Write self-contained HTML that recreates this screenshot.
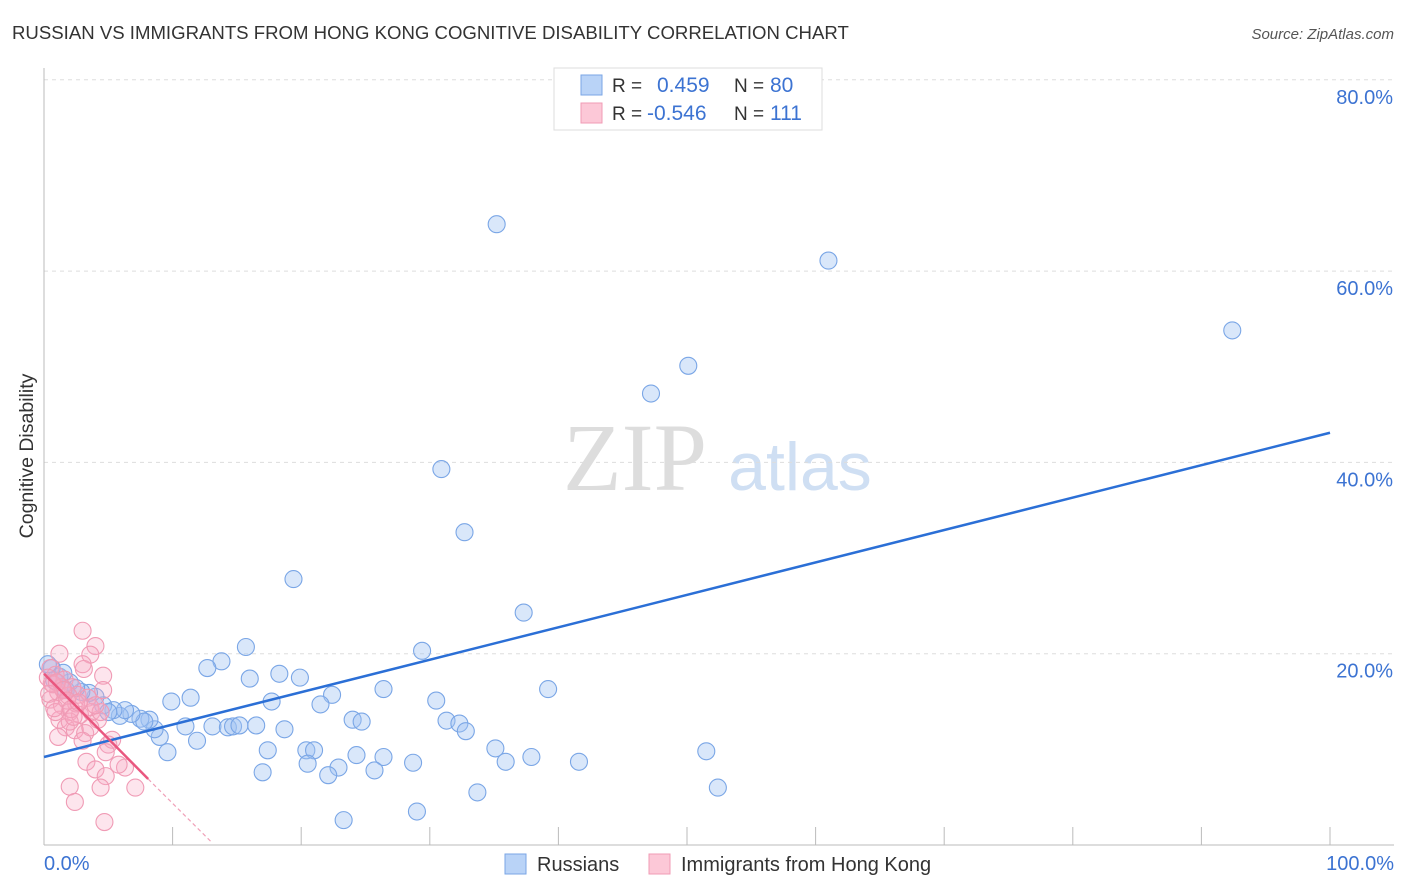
<!DOCTYPE html>
<html><head><meta charset="utf-8"><style>
body{margin:0;background:#fff;font-family:"Liberation Sans",sans-serif}
svg{display:block}
</style></head><body>
<svg id="c" width="1406" height="892">
<text x="12" y="39" font-size="18.6" fill="#333">RUSSIAN VS IMMIGRANTS FROM HONG KONG COGNITIVE DISABILITY CORRELATION CHART</text>
<text x="1394" y="39" font-size="15" fill="#555" text-anchor="end" font-style="italic">Source: ZipAtlas.com</text>
<text x="33" y="456" font-size="19.5" fill="#333" text-anchor="middle" transform="rotate(-90 33 456)">Cognitive Disability</text>
<g><text x="635" y="490" font-family="Liberation Serif" font-size="96" fill="#ddd" text-anchor="middle">ZIP</text><text x="800" y="490" font-size="68" fill="#cfdff3" text-anchor="middle">atlas</text></g>
<g id="grid"></g><g id="pts"></g><g id="lines"></g>
<g>
<rect x="554" y="68" width="268" height="62" fill="#fff" stroke="#ddd"/>
<rect x="581" y="75" width="21" height="20" fill="#b9d3f7" stroke="#7aa6e6"/>
<rect x="581" y="103" width="21" height="20" fill="#fcc8d7" stroke="#f09bb5"/>
<text x="612" y="92" font-size="19" fill="#333">R =</text><text x="657" y="92" font-size="21" fill="#3c73d2">0.459</text>
<text x="734" y="92" font-size="19" fill="#333">N =</text><text x="770" y="92" font-size="21" fill="#3c73d2">80</text>
<text x="612" y="120" font-size="19" fill="#333">R =</text><text x="647" y="120" font-size="21" fill="#3c73d2">-0.546</text>
<text x="734" y="120" font-size="19" fill="#333">N =</text><text x="770" y="120" font-size="21" fill="#3c73d2">111</text>
</g>
<g>
<rect x="505" y="854" width="21" height="20" fill="#b9d3f7" stroke="#7aa6e6"/><text x="537" y="871" font-size="20" fill="#333">Russians</text>
<rect x="649" y="854" width="21" height="20" fill="#fcc8d7" stroke="#f09bb5"/><text x="681" y="871" font-size="20" fill="#333">Immigrants from Hong Kong</text>
</g>
</svg>
<script>
const yTicks=[20,40,60,80];
const yTickLabels=["20.0%","40.0%","60.0%","80.0%"];
const xTickLabels=["0.0%","100.0%"];
const russiansX=[35.2,61.0,92.4,50.1,47.2,30.9,32.7,19.4,37.3,15.7,29.4,13.8,12.7,18.3,16.0,19.9,26.4,39.2,22.4,11.4,9.9,17.7,30.5,21.5,24.0,24.7,31.3,32.3,32.8,11.0,13.1,14.3,14.7,15.2,16.5,18.7,11.9,17.4,20.4,21.0,24.3,26.4,35.1,37.9,51.5,20.5,22.9,25.7,28.7,35.9,41.6,17.0,22.1,52.4,33.7,29.0,23.3,9.6,9.0,8.6,8.2,7.5,7.8,6.8,5.9,6.3,5.4,4.6,4.0,3.5,2.9,2.0,1.2,0.6,0.3,1.7,2.5,5.0,0.8,1.5];
const russiansY=[64.9,61.1,53.8,50.1,47.2,39.3,32.7,27.8,24.3,20.7,20.3,19.2,18.5,17.9,17.4,17.5,16.3,16.3,15.7,15.4,15.0,15.0,15.1,14.7,13.1,12.9,13.0,12.7,11.9,12.4,12.4,12.3,12.4,12.5,12.5,12.1,10.9,9.9,9.9,9.9,9.4,9.2,10.1,9.2,9.8,8.5,8.1,7.8,8.6,8.7,8.7,7.6,7.3,6.0,5.5,3.5,2.6,9.7,11.3,12.1,13.1,13.2,12.9,13.7,13.5,14.1,14.1,14.6,15.5,15.9,16.0,17.0,17.6,18.5,18.9,16.2,16.4,13.9,17.2,18.0];
const hkX=[3.0,4.0,1.2,3.6,3.0,3.1,4.6,4.6,0.5,0.9,1.6,2.2,1.1,2.6,3.4,0.5,1.4,2.0,2.8,3.7,4.2,1.2,1.7,2.4,3.2,3.6,1.1,3.0,5.0,5.3,4.8,3.3,4.0,6.3,5.8,4.8,2.0,4.4,7.1,2.4,4.7,1.9,2.5,3.6,0.9,4.4,0.6,1.4,2.0,4.0,0.3,0.7,1.0,1.5,1.8,2.1,2.3,2.7,0.4,0.8];
const hkY=[22.4,20.8,20.0,19.9,18.9,18.4,17.7,16.2,18.5,17.8,17.3,16.5,16.0,15.7,15.4,15.2,14.6,13.9,13.6,13.9,13.1,13.1,12.3,12.0,11.7,12.3,11.3,10.9,10.5,11.0,9.7,8.7,7.9,8.1,8.4,7.2,6.1,6.0,6.0,4.5,2.4,15.6,14.8,14.4,13.9,13.9,16.9,16.5,12.9,14.6,17.5,16.8,17.0,16.2,15.1,14.2,13.4,14.9,15.8,14.3];
const blueLineX=[0,100], blueLineY=[9.2,43.1];
const pinkLineX=[0,8.1], pinkLineY=[17.9,6.9];
const pinkDashX=[8.1,13.1], pinkDashY=[6.9,0.2];
const ns="http://www.w3.org/2000/svg";
const X=v=>44+v*12.86, Y=v=>845-v*9.565;
function mk(t,p,a){const e=document.createElementNS(ns,t);for(const k in a)e.setAttribute(k,a[k]);p.appendChild(e);return e;}
const grid=document.getElementById('grid');
yTicks.forEach((t,i)=>{
 const l=mk('line',grid,{x1:44,x2:1394,y1:Y(t),y2:Y(t),stroke:'#ddd','stroke-dasharray':'4,4'});
 
 
 const tx=mk('text',grid,{x:1393,y:Y(t)+24,'font-size':20,fill:'#3c73d2','text-anchor':'end'});tx.textContent=yTickLabels[i];
 
 
});
mk('line',grid,{x1:44,x2:44,y1:68,y2:845,stroke:'#bbb'});
mk('line',grid,{x1:44,x2:1394,y1:845,y2:845,stroke:'#bbb'});
for(let i=1;i<=10;i++){mk('line',grid,{x1:X(i*10),x2:X(i*10),y1:827,y2:845,stroke:'#bbb'});}
[[0,'start',44],[100,'end',1394]].forEach((d,i)=>{const tx=mk('text',grid,{x:d[2],y:870,'font-size':20,fill:'#3c73d2','text-anchor':d[1]});tx.textContent=xTickLabels[i];
 
 });
const pts=document.getElementById('pts');
russiansX.forEach((x,i)=>{const c=mk('circle',pts,{cx:X(x),cy:Y(russiansY[i]),r:8.5,fill:'rgba(160,196,242,0.4)',stroke:'#7aa6e6','stroke-width':1.1});
 
 });
hkX.forEach((x,i)=>{const c=mk('circle',pts,{cx:X(x),cy:Y(hkY[i]),r:8.5,fill:'rgba(248,170,195,0.3)',stroke:'#f09bb5','stroke-width':1.1});
 
 });
const lines=document.getElementById('lines');
const b=mk('line',lines,{x1:X(blueLineX[0]),y1:Y(blueLineY[0]),x2:X(blueLineX[1]),y2:Y(blueLineY[1]),stroke:'#2b6fd6','stroke-width':2.5});


const p=mk('line',lines,{x1:X(pinkLineX[0]),y1:Y(pinkLineY[0]),x2:X(pinkLineX[1]),y2:Y(pinkLineY[1]),stroke:'#e9577f','stroke-width':2.5});


const pd=mk('line',lines,{x1:X(pinkDashX[0]),y1:Y(pinkDashY[0]),x2:X(pinkDashX[1]),y2:Y(pinkDashY[1]),stroke:'#f0a0b8','stroke-width':1.2,'stroke-dasharray':'4,3'});


</script>
</body></html>
